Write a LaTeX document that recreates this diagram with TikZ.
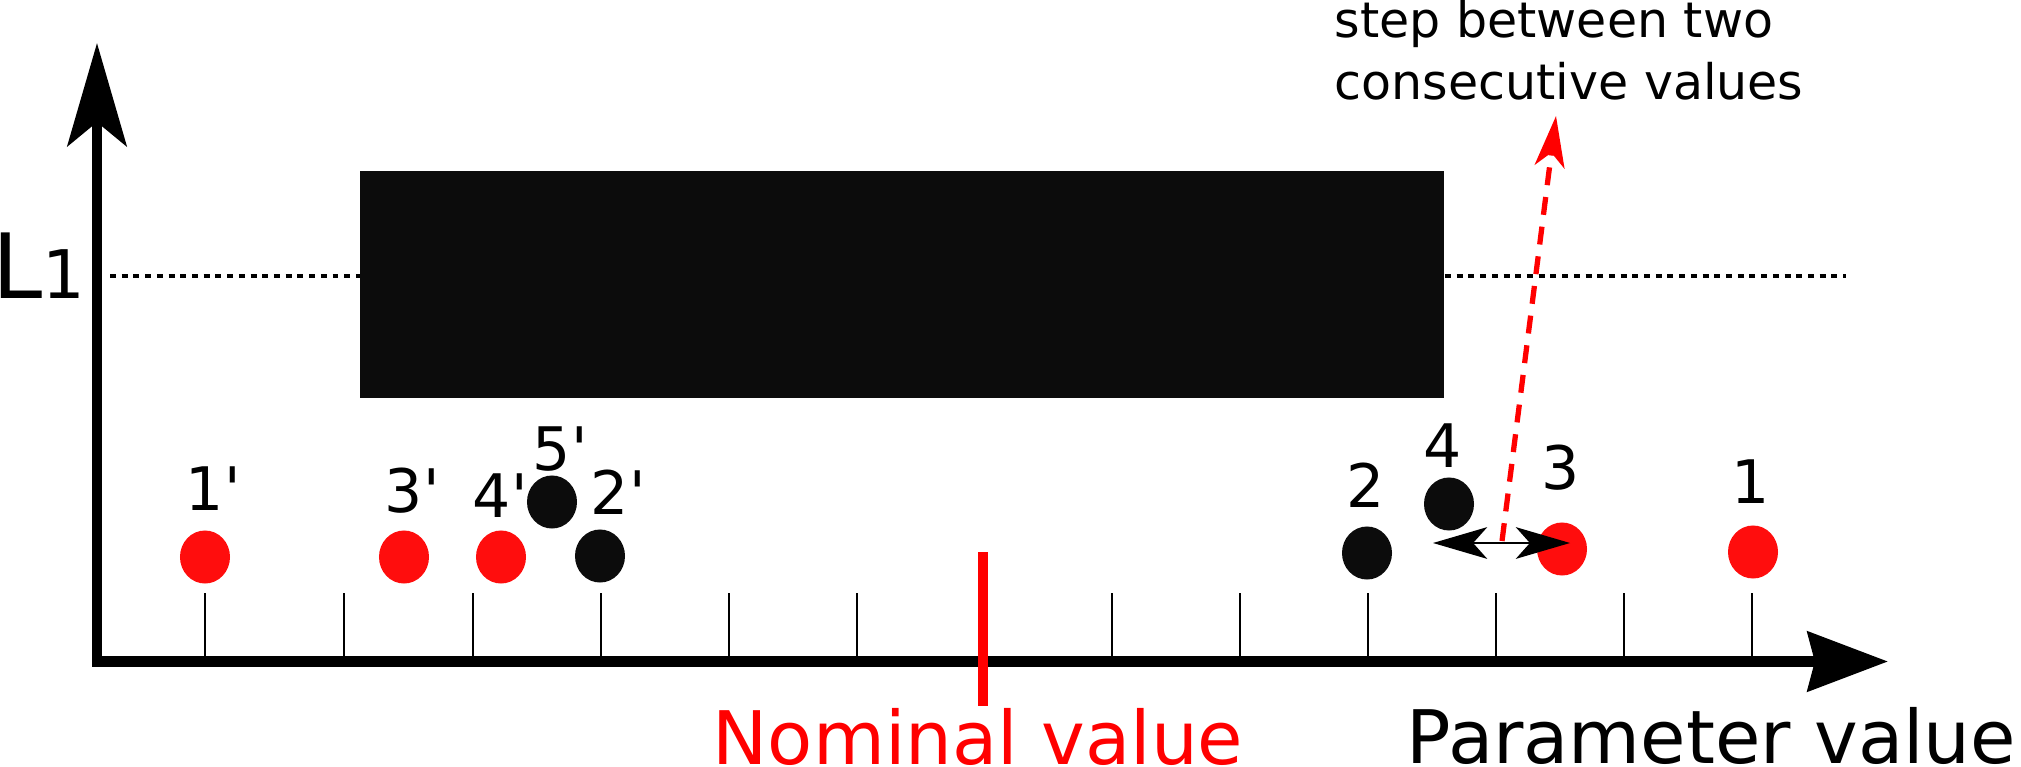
\documentclass[tikz,border=0pt]{standalone}
\usepackage{fontspec}
\setmainfont{DejaVu Sans}
\usetikzlibrary{arrows.meta,shapes.geometric}
\definecolor{dotred}{RGB}{255,13,13}
\definecolor{ink}{RGB}{12,12,12}
\begin{document}
\begin{tikzpicture}[x=0.01cm,y=-0.01cm,
  dotr/.style={ellipse,fill=dotred,minimum width=0.5cm,minimum height=0.53cm,inner sep=0pt},
  dotb/.style={ellipse,fill=ink,minimum width=0.5cm,minimum height=0.53cm,inner sep=0pt},
  lbl/.style={anchor=base,inner sep=0pt,font=\fontsize{17.07pt}{17.07pt}\selectfont},
  ticksty/.style={line width=0.77pt},
  bigtxt/.style={anchor=base west,inner sep=0pt,font=\fontsize{21pt}{21pt}\selectfont}]
\useasboundingbox (0,0) rectangle (2021,767);
% dotted level line
\coordinate (dl1) at (110,276);
\coordinate (dl2) at (1846,276);
\draw[line width=0.9pt, dash pattern=on 1.7pt off 1.63pt] (dl1) -- (dl2);
% black box
\node[fill=ink, minimum width=10.84cm, minimum height=2.27cm, inner sep=0pt] (box) at (902,284.5) {};
% ticks
\foreach \x in {205,344,473,601,729,857,1112,1240,1368,1496,1624,1752}
  \draw[ticksty] (\x,593) -- (\x,657);
% axes
\coordinate (ytip) at (97,43);
\coordinate (orig) at (97,661.5);
\coordinate (xtip) at (1888,661.5);
\draw[line width=3pt, line join=miter,
  arrows={Stealth[length=29.3pt,width=16.8pt,inset=6.8pt]-Stealth[length=22.8pt,width=16.8pt,inset=2pt]}]
  (ytip) -- (orig) -- (xtip);
% nominal bar
\coordinate (nb1) at (983,552);
\coordinate (nb2) at (983,706);
\draw[red, line width=3.1pt] (nb1) -- (nb2);
% dots
\node[dotr] (d1p) at (205,557) {};
\node[dotr] (d3p) at (404,557) {};
\node[dotr] (d4p) at (501,557) {};
\node[dotb] (d5p) at (552,502) {};
\node[dotb] (d2p) at (600,556) {};
\node[dotb] (d2) at (1367,553) {};
\node[dotb] (d4) at (1449,504) {};
\node[dotr] (d3) at (1562,549) {};
\node[dotr] (d1) at (1753,552) {};
% labels
\node[lbl] (l1p) at (205,510) {1\rlap{\textquotesingle}};
\node[lbl] (l3p) at (404,512) {3\rlap{\textquotesingle}};
\node[lbl] (l4p) at (492,517) {4\rlap{\textquotesingle}};
\node[lbl] (l5p) at (552,470) {5\rlap{\textquotesingle}};
\node[lbl] (l2p) at (610,514) {2\rlap{\textquotesingle}};
\node[lbl] (l2) at (1366,507) {2};
\node[lbl] (l4) at (1443,467) {4};
\node[lbl] (l3) at (1561,489) {3};
\node[lbl] (l1) at (1751,503) {1};
% step double arrow
\coordinate (da1) at (1433,543);
\coordinate (da2) at (1570,543);
\draw[line width=0.65pt, arrows={Stealth[length=15.4pt,width=9pt,inset=4pt]-Stealth[length=15.4pt,width=9pt,inset=4pt]}] (da1) -- (da2);
% red dashed arrow
\coordinate (ra1) at (1502,541);
\coordinate (ra2) at (1556,116);
\draw[red, line width=1.5pt, dash pattern=on 5.1pt off 3.4pt,
  arrows={-Stealth[length=14.5pt,width=8.5pt,inset=4pt]}] (ra1) -- (ra2);
% texts
\node[anchor=base west, inner sep=0pt, align=left,
  font=\fontsize{13.94pt}{17.64pt}\selectfont] (steptxt) at (1334,100)
  {step between two\\consecutive values};
\node[anchor=base west, inner sep=0pt, font=\fontsize{25.6pt}{25.6pt}\selectfont] (L1) at (-8,298)
  {L{\fontsize{19.06pt}{19.06pt}\selectfont 1}};
\node[bigtxt, text=red] (nom) at (712,764) {Nominal value};
\node[bigtxt] (par) at (1406,763) {Parameter value};
\end{tikzpicture}
\end{document}
